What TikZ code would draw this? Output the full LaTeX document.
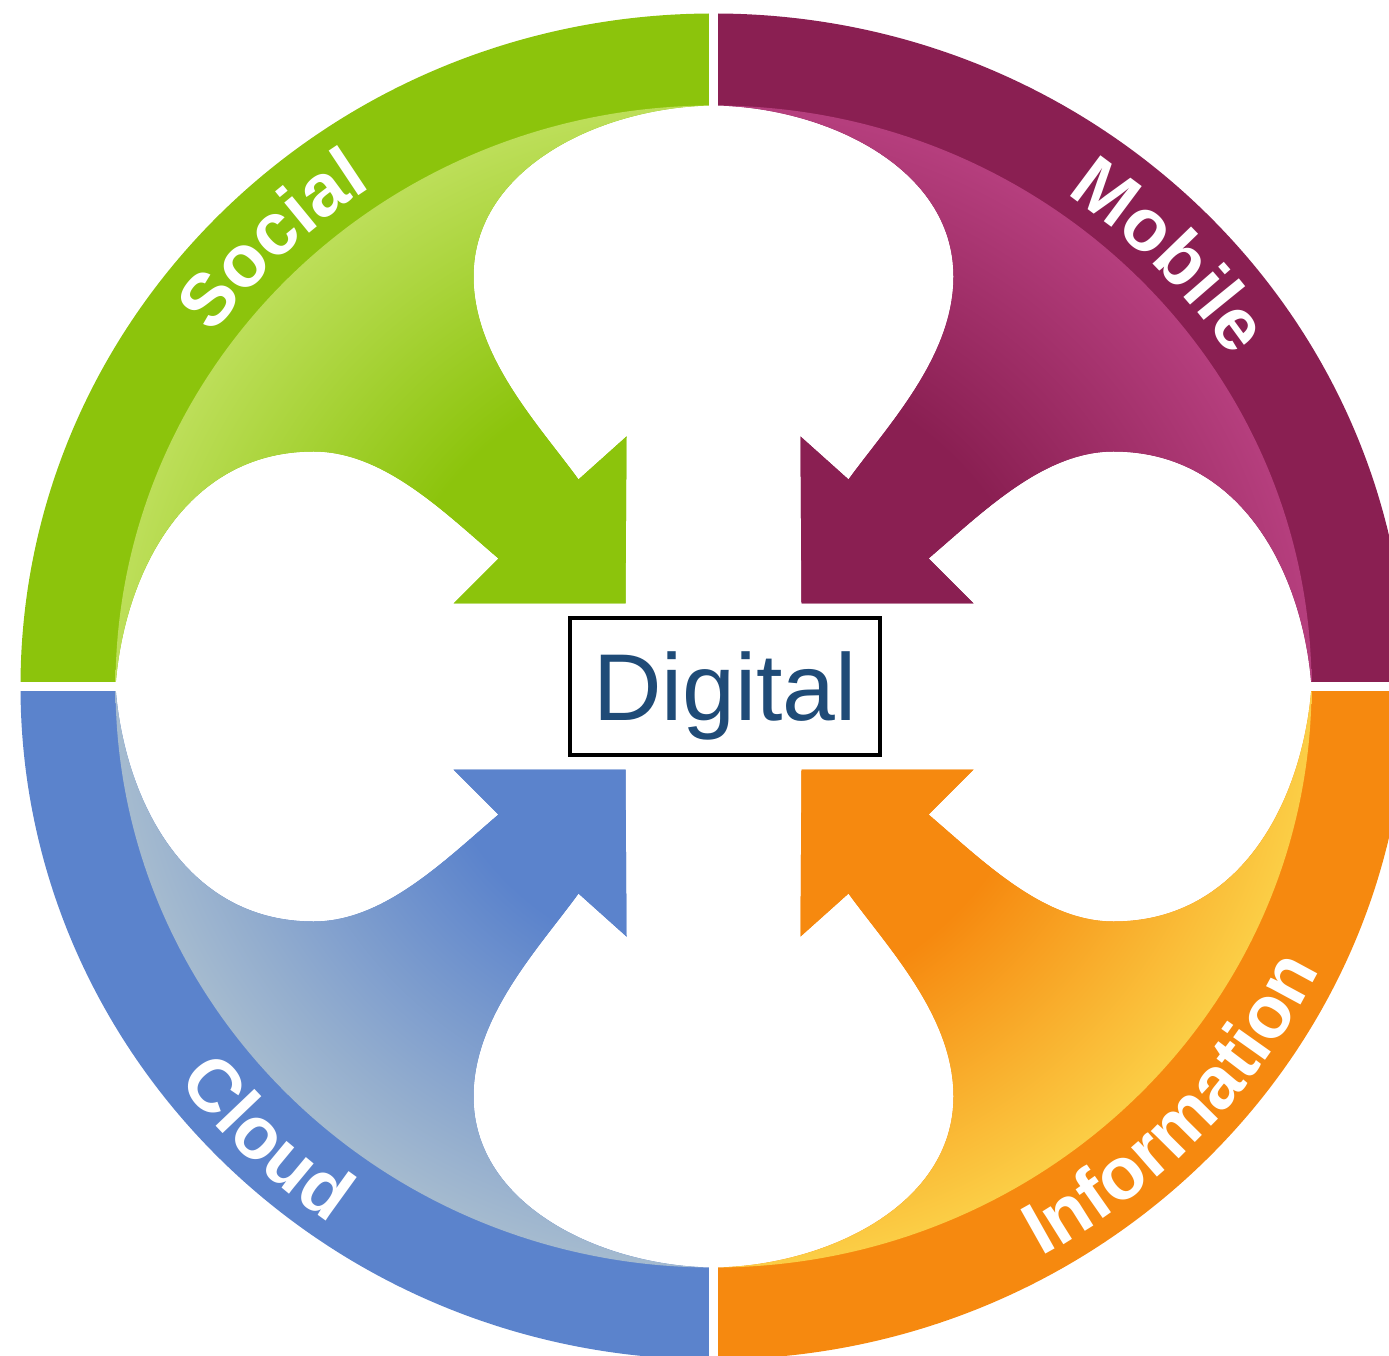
\documentclass[tikz,border=0pt]{standalone}
\usepackage{fontspec}
\setmainfont{Liberation Sans}
\usetikzlibrary{decorations.text}

\definecolor{grnbase}{HTML}{8CC40C}
\definecolor{grnlite}{HTML}{BCDE58}
\definecolor{purbase}{HTML}{8A1F52}
\definecolor{purlite}{HTML}{B53E7D}
\definecolor{blubase}{HTML}{5B83CC}
\definecolor{blulite}{HTML}{A4BACF}
\definecolor{orabase}{HTML}{F6890F}
\definecolor{oralite}{HTML}{FBCD45}
\definecolor{digblue}{HTML}{1F4B77}

% the middle 50bp of a shading is what fills the path
\pgfdeclareradialshading{grnglow}{\pgfpoint{0bp}{0bp}}{color(0bp)=(grnbase); color(14bp)=(grnbase); color(24.9bp)=(grnlite); color(50bp)=(grnlite)}
\pgfdeclareradialshading{purglow}{\pgfpoint{0bp}{0bp}}{color(0bp)=(purbase); color(14bp)=(purbase); color(24.9bp)=(purlite); color(50bp)=(purlite)}
\pgfdeclareradialshading{bluglow}{\pgfpoint{0bp}{0bp}}{color(0bp)=(blubase); color(12bp)=(blubase); color(24.9bp)=(blulite); color(50bp)=(blulite)}
\pgfdeclareradialshading{oraglow}{\pgfpoint{0bp}{0bp}}{color(0bp)=(orabase); color(14bp)=(orabase); color(24.9bp)=(oralite); color(50bp)=(oralite)}

% one quarter of the ring with its arrow (upper left), in pixels
\newcommand\petalpath{(0,673) arc[start angle=90, end angle=180, x radius=693, y radius=673]
  -- (-598,0) .. controls (-590,110) and (-530,235) .. (-400,235)
  .. controls (-330,235) and (-270,175) .. (-215,128)
  -- (-260,83) -- (-88,83) -- (-87,250) -- (-135,207)
  .. controls (-175,262) and (-240,330) .. (-240,410)
  .. controls (-240,520) and (-110,580) .. (0,581) -- cycle}
\newcommand\petal[2]{\fill[#1] \petalpath;
  \begin{scope}
    \clip \petalpath;
    \shade[shading=#2] (0,0) ellipse [x radius=598, y radius=581];
  \end{scope}}
\newcommand\lblfont{\bfseries\fontsize{21}{21}\selectfont}
\newcommand\digfont{\fontsize{27}{30}\selectfont}

\tikzset{
  ringlabel/.style={decorate, decoration={text along path, text align=center, text color=white}},
  digbox/.style={draw, line width=1.2pt, fill=white, text=digblue, font=\digfont,
    minimum width=3.1cm, minimum height=1.37cm, inner sep=0pt,
    text height=19.3pt, text depth=0pt}
}

\begin{document}
\begin{tikzpicture}[x=0.01cm, y=0.01cm]
  \useasboundingbox (-713.5,-668.5) rectangle (675.5,686.5);

  \begin{scope}\petal{grnbase}{grnglow}\end{scope}
  \begin{scope}[xscale=-1]\petal{purbase}{purglow}\end{scope}
  \begin{scope}[yscale=-1]\petal{blubase}{bluglow}\end{scope}
  \begin{scope}[xscale=-1, yscale=-1]\petal{orabase}{oraglow}\end{scope}

  % gaps between the quarters
  \draw[white, line width=2.4pt] (0,-700) -- (0,700) (-720,0) -- (720,0);

  \path[ringlabel, decoration={text={|\lblfont|Social}}]
    (164:619 and 599) arc[start angle=164, end angle=104, x radius=619, y radius=599];
  \path[ringlabel, decoration={text={|\lblfont|Mobile}}]
    (79:619 and 599) arc[start angle=79, end angle=9, x radius=619, y radius=599];
  \path[ringlabel, decoration={text={|\lblfont|Cloud}}]
    (191:673 and 653) arc[start angle=191, end angle=261, x radius=673, y radius=653];
  \path[ringlabel, decoration={text={|\lblfont|Information}}]
    (277:673 and 653) arc[start angle=277, end angle=357, x radius=673, y radius=653];

  \node[digbox] (dig) at (11.5,0) {Digital};
\end{tikzpicture}
\end{document}
